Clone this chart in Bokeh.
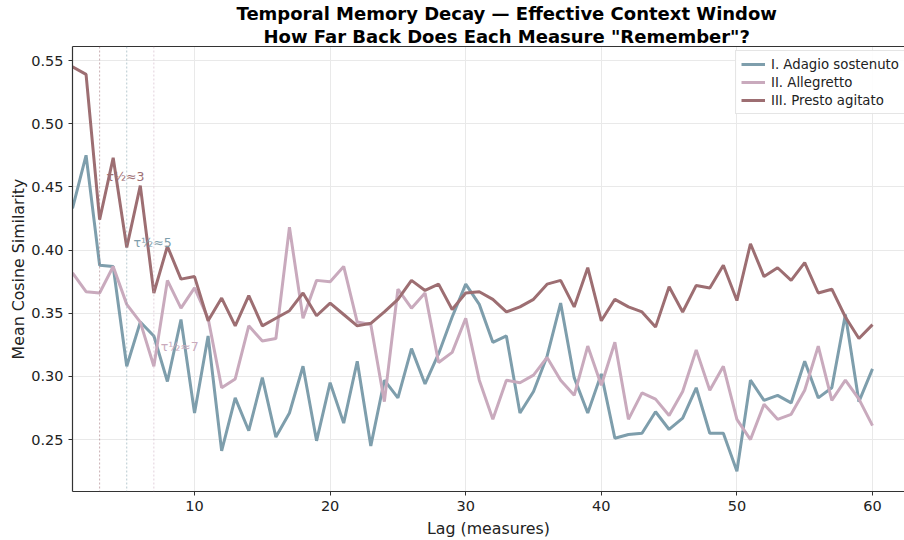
from bokeh.plotting import figure
from bokeh.models import (ColumnDataSource, FixedTicker, PrintfTickFormatter, Legend,
                          LegendItem, Span, Title, LinearAxis, Range1d)
from bokeh.core.properties import value
from bokeh.embed import file_html
from bokeh.resources import INLINE

# Lag in measures
lags = list(range(1, 61))

adagio = [0.433, 0.475, 0.388, 0.387, 0.308, 0.343, 0.332, 0.296, 0.345, 0.271,
          0.332, 0.241, 0.283, 0.257, 0.299, 0.252, 0.271, 0.308, 0.249, 0.295,
          0.263, 0.312, 0.245, 0.297, 0.283, 0.322, 0.294, 0.318, 0.347, 0.373,
          0.357, 0.327, 0.332, 0.271, 0.288, 0.316, 0.358, 0.299, 0.271, 0.302,
          0.251, 0.254, 0.255, 0.272, 0.258, 0.267, 0.291, 0.255, 0.255, 0.225,
          0.297, 0.281, 0.285, 0.279, 0.312, 0.283, 0.291, 0.349, 0.280, 0.306]

allegretto = [0.382, 0.367, 0.366, 0.387, 0.357, 0.343, 0.308, 0.376, 0.354, 0.370,
              0.346, 0.291, 0.298, 0.340, 0.328, 0.330, 0.418, 0.346, 0.376, 0.375,
              0.387, 0.343, 0.341, 0.280, 0.369, 0.354, 0.366, 0.311, 0.319, 0.346,
              0.297, 0.266, 0.297, 0.295, 0.301, 0.315, 0.297, 0.285, 0.324, 0.293,
              0.327, 0.266, 0.287, 0.282, 0.269, 0.288, 0.321, 0.289, 0.308, 0.266,
              0.250, 0.278, 0.266, 0.270, 0.289, 0.324, 0.281, 0.297, 0.282, 0.261]

presto = [0.545, 0.539, 0.424, 0.473, 0.402, 0.451, 0.366, 0.403, 0.377, 0.379,
          0.344, 0.362, 0.340, 0.364, 0.340, 0.346, 0.352, 0.366, 0.348, 0.358,
          0.349, 0.340, 0.342, 0.351, 0.361, 0.376, 0.368, 0.373, 0.353, 0.366,
          0.367, 0.361, 0.351, 0.355, 0.361, 0.373, 0.376, 0.355, 0.386, 0.344,
          0.361, 0.355, 0.351, 0.339, 0.371, 0.351, 0.372, 0.370, 0.388, 0.360,
          0.405, 0.379, 0.386, 0.376, 0.390, 0.366, 0.369, 0.347, 0.330, 0.341]

series_names = ["I. Adagio sostenuto", "II. Allegretto", "III. Presto agitato"]
series_colors = ["#7e9eac", "#c9aabd", "#9d6e72"]

# Half-life markers: lag, label, label height, colour index
half_life_lags = [3, 5, 7]
half_life_labels = ["τ½≈3", "τ½≈5", "τ½≈7"]
half_life_label_y = [0.458, 0.406, 0.324]
half_life_series = [2, 0, 1]

x_ticks = [10, 20, 30, 40, 50, 60]
y_ticks = [0.25, 0.30, 0.35, 0.40, 0.45, 0.50, 0.55]

FONT = "DejaVu Sans"

p = figure(width=904, height=540, output_backend="svg", toolbar_location=None,
           x_range=Range1d(1, 62.36), y_range=Range1d(0.2089, 0.5611),
           min_border_left=72, min_border_right=0, min_border_top=45,
           min_border_bottom=49, background_fill_color="white",
           border_fill_color="white")
p.title = None
p.outline_line_color = None

xax = p.below[0]
yax = p.left[0]

# Top spine sits directly on the frame
top = LinearAxis(ticker=FixedTicker(ticks=[]), major_label_text_font_size="0px",
                 axis_line_color="#333333", axis_line_width=1.2,
                 major_tick_line_color=None, minor_tick_line_color=None,
                 major_label_standoff=0, major_tick_out=0, major_tick_in=0)
p.add_layout(top, "above")

# Titles (closest line first)
p.add_layout(Title(text='How Far Back Does Each Measure "Remember"?', align="left",
                   offset=191, text_font=FONT, text_font_size="18px",
                   text_font_style="bold", text_color="#000000", standoff=0), "above")
p.add_layout(Title(text="Temporal Memory Decay — Effective Context Window", align="left",
                   offset=164, text_font=FONT, text_font_size="18px",
                   text_font_style="bold", text_color="#000000", standoff=0), "above")

# Grid
for g in (p.xgrid, p.ygrid):
    g.grid_line_color = "#e9e9e9"
    g.grid_line_width = 1
p.xgrid.ticker = FixedTicker(ticks=x_ticks)
p.ygrid.ticker = FixedTicker(ticks=y_ticks)

# Axes
xax.ticker = FixedTicker(ticks=x_ticks)
yax.ticker = FixedTicker(ticks=y_ticks)
yax.formatter = PrintfTickFormatter(format="%.2f")
xax.axis_label = "Lag (measures)"
yax.axis_label = "Mean Cosine Similarity"
for ax in (xax, yax):
    ax.axis_line_color = "#333333"
    ax.axis_line_width = 1.2
    ax.major_tick_line_color = "#333333"
    ax.major_tick_out = 4
    ax.major_tick_in = 0
    ax.minor_tick_line_color = None
    ax.major_label_text_font = FONT
    ax.major_label_text_font_size = "14.5px"
    ax.major_label_text_color = "#222222"
    ax.axis_label_text_font = FONT
    ax.axis_label_text_font_size = "15.8px"
    ax.axis_label_text_font_style = "normal"
    ax.axis_label_text_color = "#222222"
    ax.major_label_standoff = 5
xax.axis_label_standoff = 5
yax.axis_label_standoff = 0

# Half-life guide lines
for lag, si in zip(half_life_lags, half_life_series):
    p.add_layout(Span(location=lag, dimension="height", line_color=series_colors[si],
                      line_alpha=0.55, line_width=1, line_dash="2 2"))

# Series
renderers = []
for vals, color in zip([adagio, allegretto, presto], series_colors):
    src = ColumnDataSource(dict(lag=lags, sim=vals))
    r = p.line("lag", "sim", source=src, line_color=color, line_width=3)
    renderers.append(r)

# Half-life labels
lab_src = ColumnDataSource(dict(
    x=[l + 0.5 for l in half_life_lags],
    y=half_life_label_y,
    text=half_life_labels,
    color=[series_colors[i] for i in half_life_series],
))
p.text("x", "y", text="text", source=lab_src, text_color="color",
       text_font=value(FONT), text_font_size="12.5px", text_baseline="middle",
       text_align="left")

legend = Legend(items=[LegendItem(label=n, renderers=[r]) for n, r in zip(series_names, renderers)],
                location=(663, 377), orientation="vertical",
                label_text_font=FONT, label_text_font_size="13.3px", label_text_color="#222222",
                glyph_width=24, glyph_height=16, label_height=16, label_standoff=6,
                spacing=2, padding=5, margin=0,
                border_line_color="#cccccc", border_line_width=1,
                background_fill_color="white", background_fill_alpha=0.9)
p.add_layout(legend)

open("out.html", "w").write(file_html(p, INLINE))
